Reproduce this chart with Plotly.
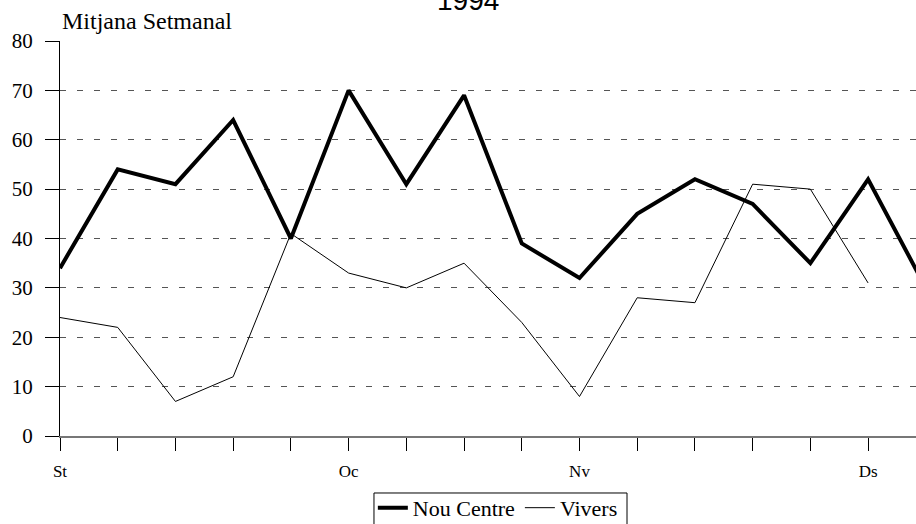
import plotly.graph_objects as go

# ---- data ----
week_index = list(range(16))
nou_centre = [34, 54, 51, 64, 40, 70, 51, 69, 39, 32, 45, 52, 47, 35, 52, 30]
vivers = [24, 22, 7, 12, 41, 33, 30, 35, 23, 8, 28, 27, 51, 50, 31, None]
tick_positions = list(range(15))
tick_labels = ["St", "", "", "", "", "Oc", "", "", "", "Nv", "", "", "", "", "Ds"]
y_ticks = [0, 10, 20, 30, 40, 50, 60, 70, 80]

SERIF = "Liberation Serif, Times New Roman, serif"

fig = go.Figure()
fig.add_trace(go.Scatter(x=week_index, y=nou_centre, mode="lines", name="Nou Centre",
                         line=dict(color="black", width=4)))
fig.add_trace(go.Scatter(x=week_index, y=vivers, mode="lines", name="Vivers",
                         line=dict(color="black", width=1)))

fig.update_layout(
    width=916, height=524,
    margin=dict(l=60, r=0, t=41, b=88, autoexpand=False),
    plot_bgcolor="white", paper_bgcolor="white",
    font=dict(family=SERIF, color="black"),
    showlegend=True,
    legend=dict(orientation="h", x=0.5115, xanchor="center", y=-0.1288, yanchor="top",
                borderwidth=0, bgcolor="rgba(0,0,0,0)",
                font=dict(family=SERIF, size=22, color="black"),
                itemwidth=30, tracegroupgap=0),
    xaxis=dict(range=[0, 14.83], tickmode="array", tickvals=tick_positions, ticktext=tick_labels,
               ticks="outside", ticklen=13, tickcolor="black", tickwidth=1,
               showgrid=False, zeroline=False, automargin=False,
               showline=True, linecolor="#777", linewidth=2,
               tickfont=dict(family=SERIF, size=17, color="black"),
               ticklabelstandoff=6),
    yaxis=dict(range=[0, 80], tickmode="array", tickvals=y_ticks,
               ticks="outside", ticklen=14, tickcolor="black", tickwidth=1,
               showgrid=True, gridcolor="#555", gridwidth=1, griddash="6px,11px",
               zeroline=False, showline=True, linecolor="black", linewidth=1,
               automargin=False,
               tickfont=dict(family=SERIF, size=21, color="black"),
               ticklabelstandoff=8),
    shapes=[
        dict(type="rect", xref="paper", yref="paper", x0=0.3668, x1=0.6624,
             y0=-0.238, y1=-0.1443, line=dict(color="black", width=1),
             fillcolor="rgba(0,0,0,0)", layer="below"),
    ],
    annotations=[
        dict(text="1994", xref="paper", yref="paper", x=0.4766, y=1.058,
             xanchor="center", yanchor="bottom", showarrow=False,
             font=dict(family="Liberation Sans, Arial, sans-serif", size=28, color="black")),
        dict(text="Mitjana Setmanal", xref="paper", yref="paper", x=0, y=1.0127,
             xanchor="left", yanchor="bottom", showarrow=False,
             font=dict(family=SERIF, size=24, color="black")),
    ],
)

fig.write_html("out.html", config={"displayModeBar": False},
               post_script="document.body.style.margin='0';")
